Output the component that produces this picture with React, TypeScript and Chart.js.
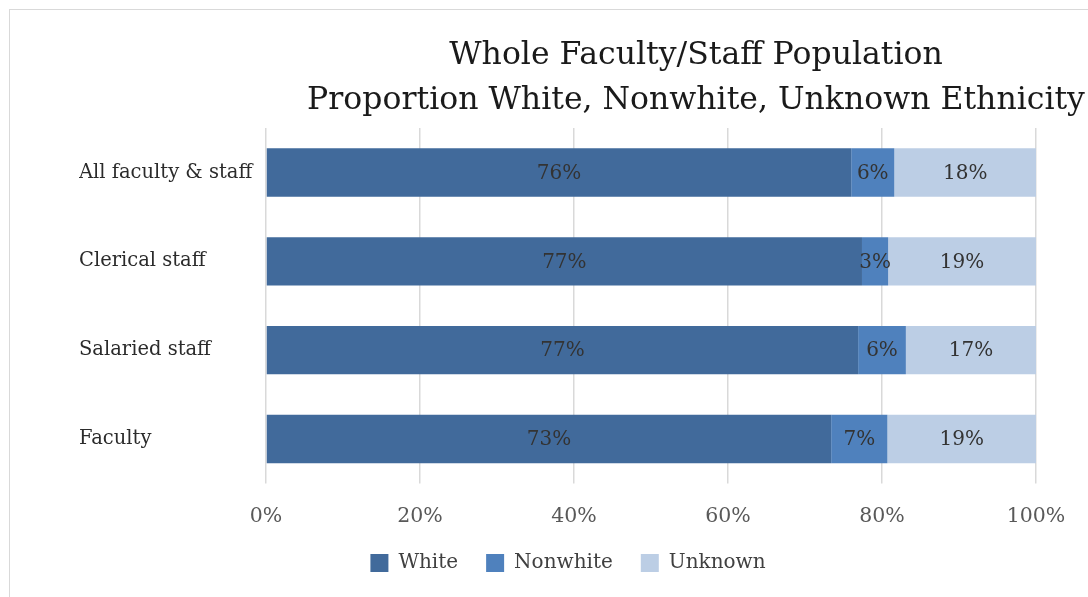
import React, { useEffect, useRef } from "react";
import { Chart, registerables } from "chart.js";

Chart.register(...registerables);

const categories = ["All faculty & staff", "Clerical staff", "Salaried staff", "Faculty"];
const whiteValues = [76.0, 77.4, 76.9, 73.4];
const nonwhiteValues = [5.6, 3.4, 6.2, 7.3];
const unknownValues = [18.4, 19.2, 16.9, 19.3];
const seriesNames = ["White", "Nonwhite", "Unknown"];
const seriesColors = ["#416a9b", "#4f81bd", "#bccee5"];
const titleLines = ["Whole Faculty/Staff Population", "Proportion White, Nonwhite, Unknown Ethnicity"];

const FONT = "'DejaVu Serif', serif";

const dataLabelPlugin = {
  id: "dataLabels",
  afterDatasetsDraw(chart: any) {
    const ctx = chart.ctx;
    ctx.save();
    ctx.font = `20px ${FONT}`;
    ctx.fillStyle = "#333333";
    ctx.textAlign = "center";
    ctx.textBaseline = "middle";
    chart.data.datasets.forEach((ds: any, di: number) => {
      const meta = chart.getDatasetMeta(di);
      meta.data.forEach((el: any, i: number) => {
        const v = ds.data[i];
        const cx = (el.x + el.base) / 2;
        ctx.fillText(`${Math.round(v)}%`, cx, el.y + 1);
      });
    });
    ctx.restore();
  },
};

const placementPlugin = {
  id: "placement",
  afterLayout(chart: any) {
    const t = chart.titleBlock;
    if (t) {
      t.left = 304;
      t.right = 1088;
    }
    const l = chart.legend;
    if (l) {
      l.left = 0;
      l.right = 1136;
    }
  },
};

export default function App() {
  const canvasRef = useRef<HTMLCanvasElement | null>(null);

  useEffect(() => {
    if (!canvasRef.current) return;
    const chart = new Chart(canvasRef.current, {
      type: "bar",
      data: {
        labels: categories,
        datasets: [
          { label: seriesNames[0], data: whiteValues, backgroundColor: seriesColors[0] },
          { label: seriesNames[1], data: nonwhiteValues, backgroundColor: seriesColors[1] },
          { label: seriesNames[2], data: unknownValues, backgroundColor: seriesColors[2] },
        ],
      },
      options: {
        indexAxis: "y",
        responsive: true,
        maintainAspectRatio: false,
        animation: false,
        datasets: {
          bar: { barPercentage: 0.545, categoryPercentage: 1, borderWidth: 0 },
        },
        layout: { padding: { top: 0, left: 79, right: 52, bottom: 14 } },
        plugins: {
          title: {
            display: true,
            text: titleLines,
            color: "#1a1a1a",
            font: { family: FONT, size: 31.5, weight: "normal", lineHeight: 1.43 },
            padding: { top: 33, bottom: 5 },
          },
          legend: {
            display: true,
            position: "bottom",
            labels: {
              boxWidth: 18,
              boxHeight: 18,
              padding: 28,
              color: "#404040",
              font: { family: FONT, size: 20 },
            },
          },
          tooltip: { enabled: false },
        },
        scales: {
          x: {
            stacked: true,
            min: 0,
            max: 100,
            ticks: {
              stepSize: 20,
              color: "#595959",
              padding: 21,
              font: { family: FONT, size: 20.5 },
              callback: (v: any) => `${v}%`,
            },
            grid: { color: "#d9d9d9", lineWidth: 1.5, tickLength: 0 },
            border: { display: false },
            afterFit: (scale: any) => {
              scale.height = scale.height - 25;
            },
          },
          y: {
            stacked: true,
            ticks: {
              crossAlign: "far",
              color: "#2b2b2b",
              font: { family: FONT, size: 19.5 },
            },
            grid: { display: false },
            border: { display: false },
            afterFit: (scale: any) => {
              scale.width = 187;
            },
          },
        },
      },
      plugins: [dataLabelPlugin, placementPlugin],
    });
    return () => chart.destroy();
  }, []);

  return (
    <div style={{ position: "fixed", left: 0, top: 0, width: 1088, height: 597, background: "#ffffff", overflow: "hidden" }}>
      <div
        style={{
          position: "absolute",
          left: 9,
          top: 9,
          width: 1200,
          height: 700,
          border: "1px solid #d9d9d9",
        }}
      />
      <div style={{ position: "absolute", left: 0, top: 0, width: 1088, height: 597 }}>
        <canvas ref={canvasRef} />
      </div>
    </div>
  );
}
